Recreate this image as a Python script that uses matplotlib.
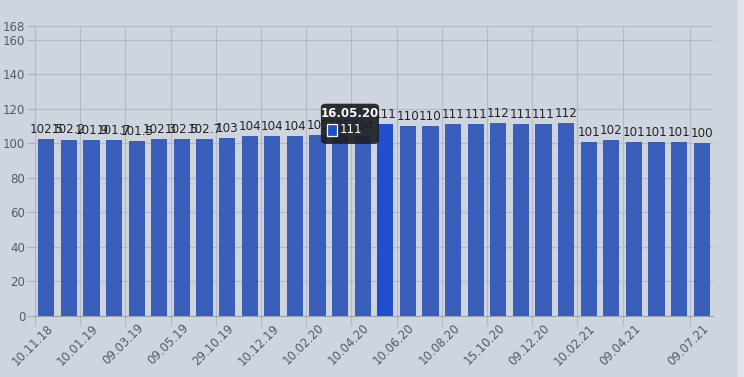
import matplotlib.pyplot as plt
import matplotlib.patches as mpatches
import numpy as np

values = [102.5, 102.2, 101.9, 101.7, 101.5, 102.3, 102.5, 102.7, 103, 104,
          104, 104, 105, 105, 104, 111, 110, 110, 111, 111,
          112, 111, 111, 112, 101, 102, 101, 101, 101, 100]
value_labels = ["102.5", "102.2", "101.9", "101.7", "101.5", "102.3", "102.5", "102.7", "103", "104",
                "104", "104", "105", "105", "104", "111", "110", "110", "111", "111",
                "112", "111", "111", "112", "101", "102", "101", "101", "101", "100"]
tick_idx = [0, 2, 4, 6, 8, 10, 12, 14, 16, 18, 20, 22, 24, 26, 29]
tick_labels = ["10.11.18", "10.01.19", "09.03.19", "09.05.19", "29.10.19", "10.12.19",
               "10.02.20", "10.04.20", "10.06.20", "10.08.20", "15.10.20", "09.12.20",
               "10.02.21", "09.04.21", "09.07.21"]
y_ticks = [0, 20, 40, 60, 80, 100, 120, 140, 160, 168]
hover_idx = 15
hover_date = "16.05.20"

bg = "#cfd5df"
fig = plt.figure(figsize=(7.44, 3.77), dpi=100, facecolor=bg)
# light strip at the right edge
fig.patches.append(mpatches.Rectangle((738 / 744, 0), 6 / 744, 1, transform=fig.transFigure,
                                      color="#dfe3ea", zorder=0))
ax = fig.add_axes([35 / 744, 61 / 377, 678 / 744, 290 / 377])
ax.set_facecolor(bg)

x = np.arange(len(values))
colors = ["#3a5fba"] * len(values)
colors[hover_idx] = "#1f4fcc"
ax.bar(x, values, width=0.71, color=colors, zorder=3)

for i, (v, t) in enumerate(zip(values, value_labels)):
    ax.text(i, v + 1.8, t, ha="center", va="bottom", fontsize=8.6, color="#222222", zorder=4)

ax.set_xlim(-0.5, len(values) - 0.5)
ax.set_ylim(0, 168)
ax.set_yticks(y_ticks)
ax.set_yticklabels([str(t) for t in y_ticks], fontsize=8.5, color="#555b66")
ax.tick_params(axis="y", length=6, color="#aab0bb", pad=1)

# vertical grid lines at left edge of labelled categories
for i in tick_idx:
    ax.axvline(i - 0.5, color="#b3b9c4", lw=0.8, zorder=1)
    ax.plot([i - 0.5, i - 0.5], [0, -5], color="#b3b9c4", lw=0.8, clip_on=False, zorder=1)
for t in y_ticks:
    ax.axhline(t, color="#b3b9c4", lw=0.8, zorder=1)

ax.set_xticks(tick_idx)
ax.set_xticklabels(tick_labels, rotation=45, ha="right", rotation_mode="anchor",
                   fontsize=8.5, color="#555b66")
ax.tick_params(axis="x", length=0, pad=4)

for s in ["top", "right"]:
    ax.spines[s].set_visible(False)
ax.spines["left"].set_color("#b3b9c4")
ax.spines["bottom"].set_color("#9aa0aa")

# tooltip
tip = mpatches.FancyBboxPatch((12.15, 99.7), 2.57, 23.3, boxstyle="round,pad=0,rounding_size=0.25",
                              transform=ax.transData, facecolor="#1c1f24", alpha=0.92,
                              edgecolor="none", zorder=6, mutation_aspect=8)
ax.add_patch(tip)
ax.text(13.44, 117.5, hover_date, ha="center", va="center", fontsize=8.5, fontweight="bold",
        color="white", zorder=7)
ax.add_patch(mpatches.Rectangle((12.4, 104.5), 0.45, 6.8, facecolor="#1f4fcc",
                                edgecolor="white", lw=0.9, zorder=7))
ax.text(12.98, 107.8, value_labels[hover_idx], ha="left", va="center", fontsize=8.5,
        color="white", zorder=7)

fig.savefig("out.png", dpi=100, facecolor=bg)
